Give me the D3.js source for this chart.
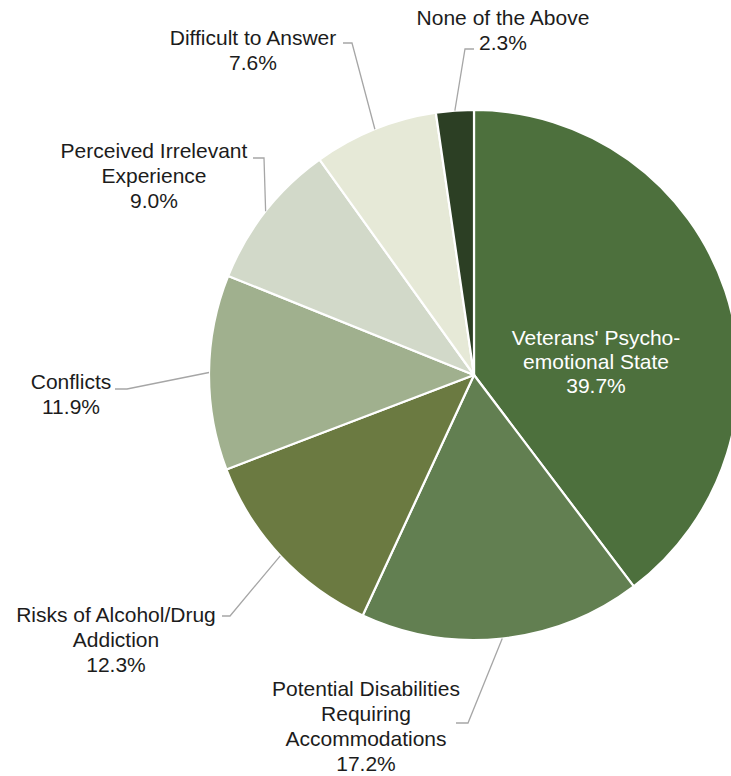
<!DOCTYPE html>
<html>
<head>
<meta charset="utf-8">
<script src="https://cdn.jsdelivr.net/npm/d3@7"></script>
<style>
  html, body { margin: 0; padding: 0; background: #fff; }
  svg { display: block; }
  text { font-family: "Liberation Sans", Arial, Helvetica, sans-serif; }
</style>
</head>
<body>
<div id="chart"></div>
<script>
// ---- data ----
const categories = [
  "Veterans' Psycho-emotional State",
  "Potential Disabilities Requiring Accommodations",
  "Risks of Alcohol/Drug Addiction",
  "Conflicts",
  "Perceived Irrelevant Experience",
  "Difficult to Answer",
  "None of the Above"
];
const values = [39.7, 17.2, 12.3, 11.9, 9.0, 7.6, 2.3];
const labelLines = [
  ["Veterans' Psycho-", "emotional State"],
  ["Potential Disabilities", "Requiring", "Accommodations"],
  ["Risks of Alcohol/Drug", "Addiction"],
  ["Conflicts"],
  ["Perceived Irrelevant", "Experience"],
  ["Difficult to Answer"],
  ["None of the Above"]
];

// ---- styles / layout ----
const colors = ["#4d703d", "#627f51", "#6b7a41", "#a0b08e", "#d2d9c9", "#e6e9d7", "#2c3f24"];
const W = 731, H = 776;
const cx = 474, cy = 375, R = 265;
const fontSize = 21, lineH = 25;
// label layout: text center x, first baseline y, leader elbow points (after arc point)
const labelLayout = [
  { x: 596, y: 345, inside: true },
  { x: 366, y: 696, leader: [[468, 723], [456, 723]] },
  { x: 116, y: 622, leader: [[230, 616], [222, 616]] },
  { x: 71,  y: 389, leader: [[127, 389], [115, 389]] },
  { x: 154, y: 158, leader: [[264, 158], [253, 158]] },
  { x: 253, y: 45,  leader: [[352, 43], [343, 43]] },
  { x: 503, y: 25,  leader: [[465, 49], [474, 49]] }
];

const svg = d3.select("#chart").append("svg")
  .attr("width", W).attr("height", H);

const data = categories.map((c, i) => ({ cat: c, value: values[i], i }));
const pie = d3.pie().value(d => d.value).sort(null);
const arcs = pie(data);
const arc = d3.arc().innerRadius(0).outerRadius(R);

const g = svg.append("g").attr("transform", `translate(${cx},${cy})`);
g.selectAll("path.slice").data(arcs).enter().append("path")
  .attr("class", "slice")
  .attr("d", arc)
  .attr("fill", d => colors[d.data.i])
  .attr("stroke", "#fff")
  .attr("stroke-width", 2.2)
  .attr("stroke-linejoin", "round");

// leader lines
const line = d3.line();
arcs.forEach(a => {
  const L = labelLayout[a.data.i];
  if (!L.leader) return;
  const mid = (a.startAngle + a.endAngle) / 2;
  const p0 = [cx + R * Math.sin(mid), cy - R * Math.cos(mid)];
  svg.append("path")
    .attr("d", line([p0, ...L.leader]))
    .attr("fill", "none")
    .attr("stroke", "#a6a6a6")
    .attr("stroke-width", 1.3);
});

// labels
arcs.forEach(a => {
  const i = a.data.i;
  const L = labelLayout[i];
  const lines = labelLines[i].concat([d3.format(".1f")(a.data.value) + "%"]);
  const t = svg.append("text")
    .attr("text-anchor", "middle")
    .attr("font-size", fontSize)
    .attr("fill", L.inside ? "#ffffff" : "#1c1c1c");
  lines.forEach((s, k) => {
    t.append("tspan").attr("x", L.x).attr("y", L.y + k * (L.inside ? 24 : lineH)).text(s);
  });
});
</script>
</body>
</html>
